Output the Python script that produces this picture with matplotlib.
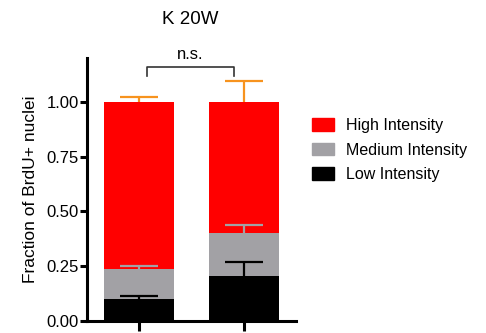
import numpy as np
import matplotlib.pyplot as plt
from matplotlib.patches import Patch

plt.rcParams['font.family'] = ['Liberation Sans', 'DejaVu Sans']

# data
groups = ['A', 'B']
low = [0.10, 0.205]
medium = [0.137, 0.195]
high = [0.763, 0.60]
low_err = [0.014, 0.065]
medium_err = [0.014, 0.04]
high_err = [0.02, 0.097]
labels = ['Low Intensity', 'Medium Intensity', 'High Intensity']
colors = ['#000000', '#A2A1A5', '#FF0000']
err_colors = ['#000000', '#A2A1A5', '#F7931E']

fig = plt.figure(figsize=(4.86, 3.33), dpi=100)
ax = fig.add_axes([87/486, 1-321/333, 209/486, 263/333])

x = np.arange(len(groups))
w = 0.667
cap = 0.18
bottom = np.zeros(len(groups))
for vals, errs, col, ecol in zip([low, medium, high], [low_err, medium_err, high_err], colors, err_colors):
  vals = np.array(vals)
  ax.bar(x, vals, w, bottom=bottom, color=col, zorder=2)
  tops = bottom + vals
  ends = tops + np.array(errs)
  # upper error bars only
  ax.vlines(x, tops, ends, color=ecol, lw=1.6, zorder=3)
  ax.hlines(ends, x - cap, x + cap, color=ecol, lw=1.6, zorder=3)
  bottom = tops

# significance bracket
bx0, bx1, by = 0.07, 0.91, 1.16
ax.plot([bx0, bx0, bx1, bx1], [1.12, by, by, 1.12], color='#333333', lw=1.2, clip_on=False)
ax.text((bx0+bx1)/2, by+0.02, 'n.s.', ha='center', va='bottom', fontsize=12)

ax.set_xlim(-0.5, 1.5)
ax.set_ylim(0, 1.2)
ax.set_yticks([0, 0.25, 0.5, 0.75, 1.0])
ax.set_yticklabels(['0.00', '0.25', '0.50', '0.75', '1.00'])
ax.set_xticks(x)
ax.set_xticklabels([])
ax.spines['top'].set_visible(False)
ax.spines['right'].set_visible(False)
for s in ['left', 'bottom']:
  ax.spines[s].set_linewidth(2.2)
ax.tick_params(axis='y', width=2.2, length=5, labelsize=12, pad=1)
ax.tick_params(axis='x', width=2.2, length=7)
ax.set_ylabel('Fraction of BrdU+ nuclei', fontsize=12.5, labelpad=6)
fig.text(190/486, 1-20/333, 'K 20W', ha='center', va='center', fontsize=13.5)

handles = [Patch(color=c, label=l) for c, l in zip(colors, labels)][::-1]
fig.legend(handles=handles, loc='center left', bbox_to_anchor=(312/486, 1-150/333),
           frameon=False, fontsize=11.5, handlelength=1.35, handleheight=0.86,
           handletextpad=0.8, labelspacing=0.6, borderpad=0, borderaxespad=0)

fig.savefig('out.png', dpi=100)
